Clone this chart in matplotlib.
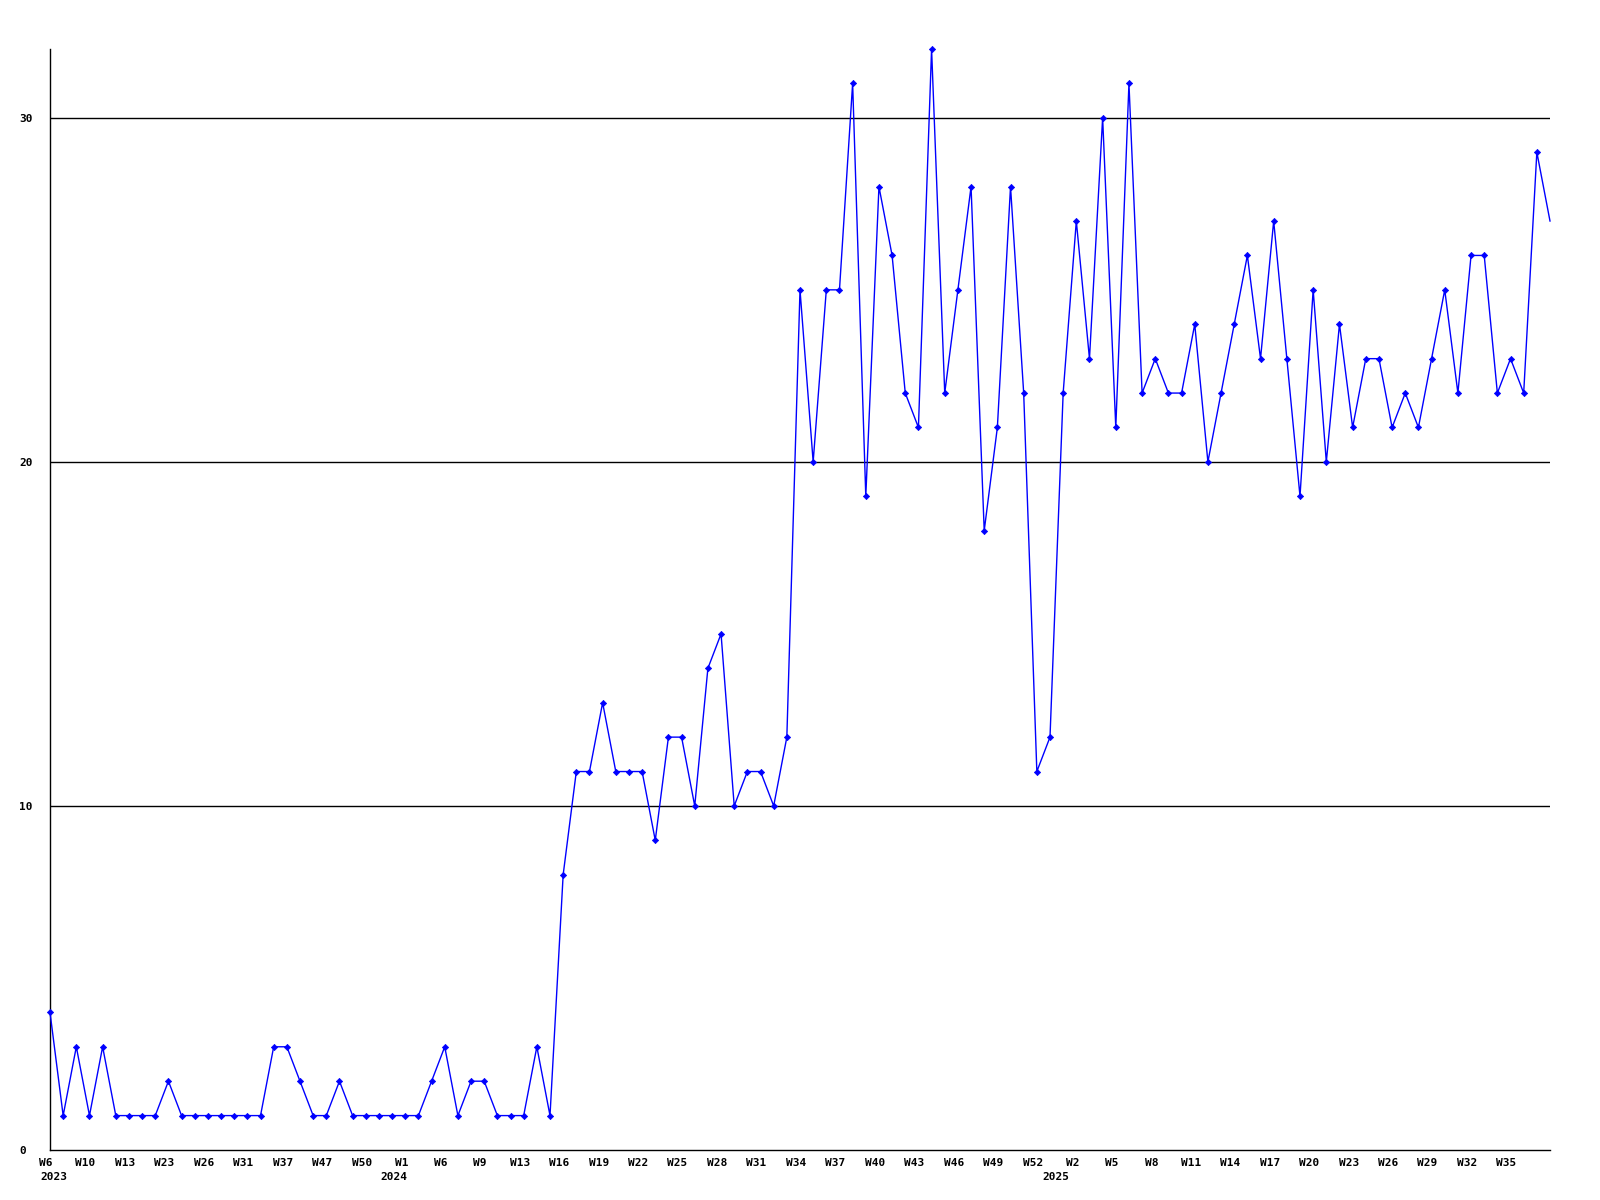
import matplotlib
matplotlib.use("Agg")
import matplotlib.pyplot as plt
import matplotlib.transforms as mtransforms

# one value per week that has data (weeks without data are skipped)
counts = [
    4, 1, 3, 1, 3, 1, 1, 1, 1, 2,
    1, 1, 1, 1, 1, 1, 1, 3, 3, 2,
    1, 1, 2, 1, 1, 1, 1, 1, 1, 2,
    3, 1, 2, 2, 1, 1, 1, 3, 1,
    8, 11, 11, 13, 11, 11, 11, 9, 12, 12,
    10, 14, 15, 10, 11, 11, 10, 12, 25, 20,
    25, 25, 31, 19, 28, 26, 22, 21, 32, 22,
    25, 28, 18, 21, 28, 22, 11, 12, 22, 27,
    23, 30, 21, 31, 22, 23, 22, 22, 24, 20,
    22, 24, 26, 23, 27, 23, 19, 25, 20, 24,
    21, 23, 23, 21, 22, 21, 23, 25, 22, 26,
    26, 22, 23, 22, 29, 27,
]

# week labels, shown on every third point
week_labels = [
    "W6", "W10", "W13", "W23", "W26", "W31", "W37", "W47", "W50",
    "W1", "W6", "W9", "W13", "W16", "W19", "W22", "W25", "W28", "W31",
    "W34", "W37", "W40", "W43", "W46", "W49", "W52",
    "W2", "W5", "W8", "W11", "W14", "W17", "W20", "W23", "W26", "W29",
    "W32", "W35",
]
label_step = 3

years = ["2023", "2024", "2025"]
year_label_index = [0, 9, 26]   # position in week_labels where the year starts

y_ticks = [0, 10, 20, 30]

font = "DejaVu Sans Mono"

fig = plt.figure(figsize=(16, 12), dpi=100)
ax = fig.add_axes([50 / 1600, 1 - 1150 / 1200, 1500 / 1600, 1101 / 1200])

x = list(range(len(counts)))
# last point sits on the right edge and has no marker in the original
ax.plot(x, counts, color="#0000ff", linewidth=1.0, marker="D", markersize=3.2,
        markeredgewidth=0.5, markevery=list(range(len(counts) - 1)),
        clip_on=False, zorder=3)

ax.set_xlim(0, len(counts) - 1)
ax.set_ylim(0, max(counts))

for v in y_ticks[1:]:
    ax.axhline(v, color="black", linewidth=1.0, zorder=1)

for side in ["top", "right"]:
    ax.spines[side].set_visible(False)
for side in ["left", "bottom"]:
    ax.spines[side].set_color("black")
    ax.spines[side].set_linewidth(1.0)

tick_pos = [i * label_step for i in range(len(week_labels))]
ax.set_xticks(tick_pos)
ax.set_xticklabels(week_labels, fontfamily=font, fontweight="bold", fontsize=8)
ax.tick_params(axis="x", length=0, pad=6)
shift = mtransforms.ScaledTranslation(-4 / 100, 0, fig.dpi_scale_trans)
for lab in ax.get_xticklabels():
    lab.set_transform(lab.get_transform() + shift)

ax.set_yticks(y_ticks)
ax.set_yticklabels([str(v) for v in y_ticks], fontfamily=font, fontweight="bold",
                   fontsize=8, ha="left")
ax.tick_params(axis="y", length=0, pad=22)

year_offsets = [4, -11, -20]
for yr, li, off in zip(years, year_label_index, year_offsets):
    ax.annotate(yr, xy=(tick_pos[li], 0), xycoords=("data", "axes fraction"),
                xytext=(off, -27), textcoords="offset pixels",
                ha="center", va="center", fontfamily=font, fontweight="bold",
                fontsize=8, annotation_clip=False)

fig.savefig("out.png", dpi=100)
